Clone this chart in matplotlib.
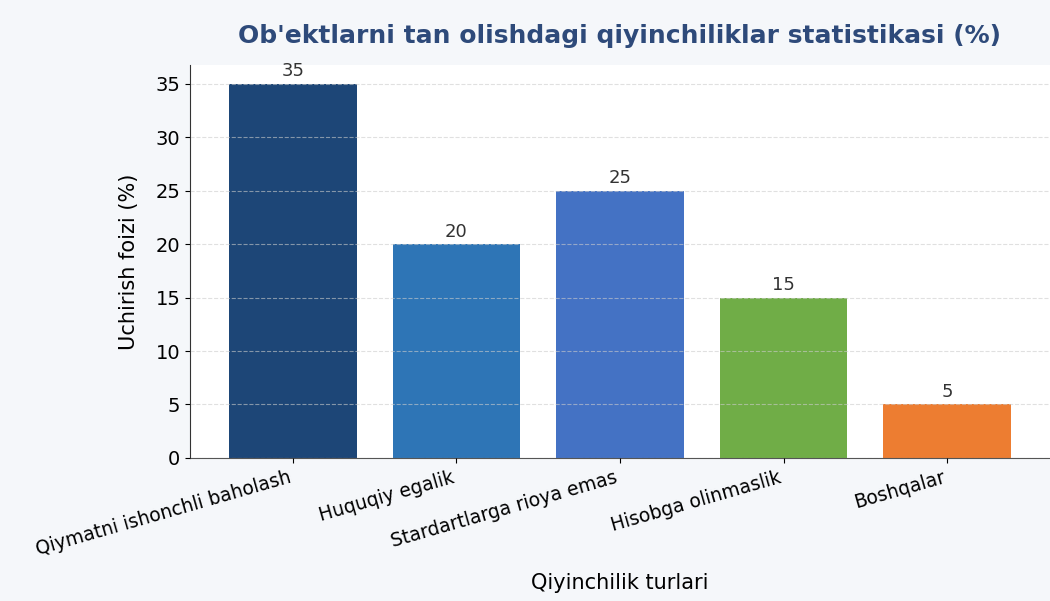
import matplotlib.pyplot as plt

categories = ["Qiymatni ishonchli baholash", "Huquqiy egalik", "Stardartlarga rioya emas",
              "Hisobga olinmaslik", "Boshqalar"]
values = [35, 20, 25, 15, 5]
colors = ["#1d4677", "#2e75b6", "#4472c4", "#70ad47", "#ed7d31"]

fig = plt.figure(figsize=(10.5, 6.01), dpi=100, facecolor="#f5f7fa")
ax = fig.add_axes([0.181, 0.238, 0.819, 0.654])
ax.set_facecolor("white")

bars = ax.bar(categories, values, color=colors, width=0.78, zorder=2)
for b, v in zip(bars, values):
    ax.text(b.get_x() + b.get_width() / 2, v + 0.3, str(v), ha="center", va="bottom",
            fontsize=13, color="#333333")

ax.set_ylim(0, 36.75)
ax.grid(axis="y", linestyle="--", color="#cccccc", alpha=0.6, zorder=3)
ax.set_axisbelow(False)
for s in ["top", "right"]:
    ax.spines[s].set_visible(False)
ax.spines["left"].set_color("#333333")
ax.spines["bottom"].set_color("#555555")

ax.tick_params(axis="y", labelsize=14)
ax.tick_params(axis="x", labelsize=13.5)
plt.setp(ax.get_xticklabels(), rotation=16, ha="right")

ax.set_ylabel("Uchirish foizi (%)", fontsize=15, labelpad=12)
ax.set_xlabel("Qiyinchilik turlari", fontsize=15, labelpad=10)
fig.text(0.59, 0.94, "Ob'ektlarni tan olishdagi qiyinchiliklar statistikasi (%)",
         ha="center", va="center", fontsize=18, fontweight="bold", color="#2e4a7a")

fig.savefig("out.png", facecolor=fig.get_facecolor())
